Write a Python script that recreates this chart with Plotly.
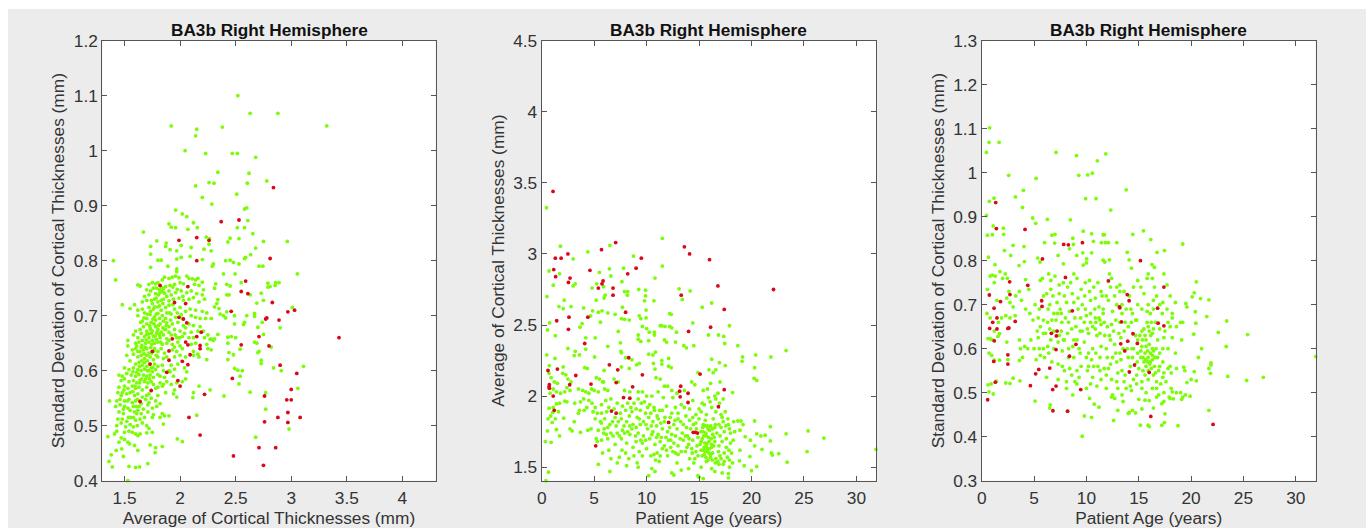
import plotly.graph_objects as go

TITLE = "BA3b Right Hemisphere"
XLABELS = ["Average of Cortical Thicknesses (mm)", "Patient Age (years)", "Patient Age (years)"]
YLABELS = ["Standard Deviation of Cortical Thicknesses (mm)", "Average of Cortical Thicknesses (mm)",
           "Standard Deviation of Cortical Thicknesses (mm)"]

# Panel 1: average thickness vs standard deviation
p1_red = [(2.84,.933),(2.37,.871),(2.53,.874),(1.99,.837),(2.15,.842),(2.26,.837),(2.15,.80),(2.81,.804),(1.82,.755),(2.07,.753),
(2.59,.763),(2.55,.744),(2.61,.74),(2.83,.724),(1.95,.724),(2.05,.722),(2.46,.708),(3.03,.71),(2.97,.707),(1.99,.697),(2.03,.694),
(2.06,.687),(2.78,.696),(2.77,.694),(2.89,.692),(3.43,.66),(2.71,.662),(2.15,.662),(2.19,.67),(1.93,.658),(2.05,.652),(2.07,.647),
(2.18,.646),(2.18,.64),(2.55,.647),(2.80,.645),(1.75,.635),(1.90,.636),(2.09,.629),(1.90,.619),(2.02,.617),(1.73,.612),(2.07,.611),
(2.90,.61),(1.88,.597),(3.05,.595),(2.47,.586),(1.98,.582),(2.0,.572),(1.74,.564),(3.0,.566),(2.22,.557),(2.76,.554),(2.96,.547),
(3.0,.547),(1.64,.544),(2.97,.524),(2.08,.515),(2.88,.515),(3.08,.515),(2.76,.507),(2.97,.506),(2.18,.483),(2.71,.46),(2.86,.46),
(2.48,.445),(2.75,.428)]
p1_green = [(1.40,.80),(1.42,.765),(1.365,.545),(1.35,.48),(1.38,.447),(1.36,.435),(1.39,.425),(1.53,.40),(1.54,.426),(1.60,.424),
(1.635,.425),(1.71,.431),(1.84,.462),(1.78,.46),(1.775,.451),(1.73,.465),(1.49,.444),(1.425,.455),(1.475,.458),(1.545,.467),(1.59,.464),(1.62,.455),
(2.52,1.10),(2.63,1.068),(2.88,1.068),(3.32,1.045),(1.92,1.045),(2.38,1.043),(2.15,1.039),(2.14,1.027),(2.045,1.0),(2.23,.995),(2.47,.995),(2.515,.995),
(2.68,.988),(2.34,.961),(2.62,.959),(2.78,.945),(2.26,.942),(2.305,.941),(2.605,.941),(2.14,.936),(2.51,.921),(2.2,.915),(2.285,.903),(2.58,.894),(2.6,.896),
(1.96,.892),(2.02,.885),(2.06,.88),(2.61,.873),(2.12,.869),(1.9,.867),(1.92,.861),(1.96,.86),(2.07,.857),(2.155,.86),(2.515,.86),(2.58,.86),(1.67,.852),
(2.655,.849),(2.235,.843),(2.265,.84),(2.45,.841),(2.53,.84),(2.43,.834),(2.75,.835),(2.965,.835),(1.79,.836),(1.875,.832),(2.01,.828),(1.735,.826),(1.87,.826),
(2.1,.824),(2.26,.83),(2.215,.821),(2.28,.818),(1.91,.82),(1.97,.818),(2.68,.823),(2.635,.811),(2.59,.806),(2.58,.804),(1.735,.812),(2.09,.808),(2.01,.806),
(1.97,.803),(1.8,.801),(1.83,.801),(2.2,.802),(2.41,.80),(2.45,.801),(2.48,.797),(2.3,.794),(2.29,.79),(2.53,.794),(2.71,.79),(2.745,.79),(1.89,.79),(1.97,.785),
(1.97,.78),(1.735,.788),(2.495,.776),(2.39,.776),(3.055,.776),(2.89,.76),(2.86,.76),(2.855,.755),(2.79,.752),(2.81,.753),(2.79,.759),(2.55,.76),(2.42,.757),(2.45,.754),
(2.32,.758),(2.31,.75),(2.73,.741),(2.63,.738),(2.42,.738),(2.44,.738),(2.75,.728),(2.34,.729),(2.69,.723),(2.33,.722),(2.31,.716),(3.01,.715),(2.35,.713),(2.42,.707),
(2.49,.70),(2.6,.70),(2.67,.704),(2.67,.699),(2.36,.703),(2.39,.70),(2.28,.695),(2.41,.696),(2.74,.688),(2.49,.685),(2.58,.688),(2.57,.684),(2.7,.679),(2.9,.678),
(2.75,.666),(2.67,.652),(2.69,.65),(2.43,.661),(2.46,.662),(2.5,.66),(2.34,.666),(2.31,.658),(2.27,.657),(2.82,.643),(2.43,.65),(2.54,.639),(2.7,.633),(2.71,.635),
(2.44,.633),(2.48,.629),(2.43,.62),(2.73,.619),(2.73,.613),(3.11,.608),(2.84,.605),(2.91,.60),(2.49,.604),(2.52,.601),(2.56,.60),(2.54,.59),(2.53,.576),(3.06,.568),
(2.63,.561),(2.77,.56),(2.27,.565),(2.395,.554),(2.17,.572),(2.12,.56),(2.115,.551),(2.77,.53),(2.15,.519),(2.98,.494),(2.68,.479),(1.975,.476),(2.02,.471),
(1.62,.756),(1.64,.754),(1.72,.757),(1.75,.76),(1.78,.758),(1.8,.76),(1.84,.765),(1.86,.77),(1.9,.768),(1.93,.77),(1.96,.772),(1.99,.769),(2.06,.772),(2.08,.768),(2.11,.767),
(2.14,.765),(2.16,.768),(2.2,.761),(1.7,.747),(1.76,.75),(1.79,.75),(1.83,.752),(1.85,.749),(1.87,.753),(1.91,.755),(1.95,.757),(2.0,.76),(2.03,.758),(2.13,.757),(2.17,.755),
(2.21,.747),(1.68,.735),(1.72,.738),(1.78,.74),(1.82,.742),(1.84,.744),(1.86,.741),(1.88,.735),(1.92,.738),(1.96,.742),(2.01,.745),(2.06,.742),(2.1,.745),(2.15,.74),(2.2,.738),
(1.66,.725),(1.7,.728),(1.75,.722),(1.77,.73),(1.8,.725),(1.83,.728),(1.85,.73),(1.9,.727),(1.94,.73),(1.99,.732),(2.03,.728),(2.08,.73),(2.12,.733),(2.17,.725),(2.22,.73),
(1.59,.72),(1.48,.72),(1.55,.713),(1.62,.71),(1.66,.712),(1.72,.715),(1.76,.712),(1.8,.716),(1.83,.71),(1.87,.715),(1.9,.719),(1.95,.712),(2.0,.715),(2.05,.708),(2.09,.712),
(2.14,.71),(2.2,.708),(2.24,.705),(1.62,.70),(1.68,.705),(1.7,.695),(1.73,.702),(1.77,.698),(1.8,.704),(1.84,.70),(1.87,.695),(1.92,.703),(1.96,.697),(2.01,.702),(2.1,.70),
(2.14,.697),(2.18,.695),(2.23,.695),(1.66,.69),(1.7,.685),(1.74,.688),(1.78,.692),(1.82,.685),(1.85,.69),(1.88,.687),(1.9,.68),(1.93,.685),(1.98,.688),(2.03,.682),(2.08,.685),
(2.12,.682),(2.18,.68),(2.21,.672),(1.6,.672),(1.64,.675),(1.67,.68),(1.7,.672),(1.73,.678),(1.75,.672),(1.78,.68),(1.8,.675),(1.83,.67),(1.87,.675),(1.9,.67),(1.95,.675),
(2.0,.672),(2.05,.678),(2.1,.67),(2.16,.672),(2.25,.665),(1.58,.665),(1.62,.66),(1.65,.668),(1.68,.662),(1.7,.666),(1.72,.66),(1.74,.668),(1.76,.663),(1.79,.668),(1.82,.66),
(1.85,.665),(1.88,.658),(1.92,.665),(1.97,.66),(2.02,.662),(2.08,.66),(2.12,.66),(2.22,.66),(2.28,.658),(1.53,.655),(1.6,.65),(1.63,.652),(1.66,.655),(1.69,.65),(1.72,.652),
(1.75,.655),(1.77,.65),(1.8,.652),(1.84,.648),(1.88,.65),(1.93,.648),(1.98,.652),(2.0,.645),(2.1,.648),(2.14,.65),(2.24,.648),(2.3,.655),(1.57,.638),(1.6,.64),(1.62,.635),
(1.65,.642),(1.67,.638),(1.7,.64),(1.72,.632),(1.77,.64),(1.8,.635),(1.83,.64),(1.86,.632),(1.93,.638),(1.97,.635),(2.02,.64),(2.12,.635),(2.16,.63),(2.25,.64),(2.28,.638),
(1.53,.645),(1.52,.628),(1.58,.63),(1.62,.625),(1.65,.628),(1.68,.622),(1.7,.628),(1.73,.625),(1.76,.62),(1.8,.625),(1.85,.622),(1.95,.625),(2.0,.628),(2.05,.625),(2.12,.628),
(2.17,.625),(2.24,.62),(1.55,.618),(1.6,.612),(1.63,.615),(1.66,.61),(1.68,.615),(1.7,.608),(1.74,.605),(1.77,.612),(1.8,.608),(1.84,.61),(1.92,.61),(1.98,.612),(2.04,.605),
(1.5,.605),(1.54,.602),(1.58,.605),(1.62,.602),(1.65,.6),(1.68,.603),(1.72,.6),(1.75,.598),(1.78,.602),(1.85,.6),(1.91,.598),(1.95,.603),(2.06,.598),(1.45,.592),(1.48,.59),
(1.52,.595),(1.56,.592),(1.6,.59),(1.63,.593),(1.67,.592),(1.7,.59),(1.73,.592),(1.76,.588),(1.8,.593),(1.86,.588),(1.94,.59),(2.05,.585),(1.47,.582),(1.5,.585),(1.54,.58),
(1.58,.582),(1.61,.578),(1.64,.583),(1.68,.58),(1.71,.578),(1.74,.58),(1.82,.578),(1.88,.58),(1.92,.575),(1.97,.578),(2.02,.58),(1.45,.57),(1.5,.572),(1.53,.568),(1.57,.572),
(1.6,.568),(1.63,.57),(1.66,.565),(1.7,.57),(1.78,.568),(1.84,.572),(1.95,.565),(1.44,.56),(1.47,.555),(1.52,.558),(1.55,.56),(1.59,.555),(1.62,.558),(1.66,.552),(1.7,.555),
(1.72,.558),(1.8,.555),(1.87,.56),(1.94,.558),(1.97,.552),(1.43,.545),(1.46,.548),(1.5,.545),(1.54,.548),(1.57,.542),(1.6,.545),(1.69,.548),(1.72,.542),(1.42,.535),(1.46,.538),
(1.5,.535),(1.53,.532),(1.58,.535),(1.63,.535),(1.67,.53),(1.71,.538),(1.75,.532),(1.79,.535),(1.45,.525),(1.49,.522),(1.55,.528),(1.59,.525),(1.62,.528),(1.65,.522),(1.71,.525),
(1.76,.52),(1.84,.522),(1.86,.518),(1.9,.518),(1.44,.512),(1.48,.512),(1.52,.508),(1.58,.515),(1.6,.51),(1.68,.515),(1.75,.515),(1.82,.515),(1.85,.503),(1.43,.5),(1.47,.505),
(1.55,.502),(1.58,.498),(1.66,.505),(1.7,.5),(1.72,.495),(1.43,.49),(1.41,.485),(1.5,.488),(1.54,.49),(1.57,.488),(1.6,.485),(1.64,.485),(1.7,.487),(1.75,.488),(1.47,.478),
(1.5,.475),(1.53,.47),(1.62,.482),(1.45,.47),
(1.735,.745),(1.815,.747),(1.805,.738),(1.785,.732),(1.742,.728),(1.815,.718),(1.845,.722),(1.77,.716),(1.735,.708),(1.785,.703),(1.815,.695),(1.755,.694),(1.705,.703),(1.675,.696),
(1.645,.688),(1.725,.682),(1.765,.685),(1.805,.682),(1.845,.678),(1.875,.682),(1.915,.692),(1.715,.667),(1.735,.675),(1.775,.663),(1.795,.671),(1.815,.665),(1.695,.656),(1.745,.648),
(1.785,.657),(1.825,.652),(1.655,.646),(1.685,.643),(1.735,.642),(1.765,.636),(1.61,.645),(1.64,.635),(1.675,.631),(1.705,.618),(1.745,.632),(1.785,.628),(1.655,.618),(1.635,.608),
(1.705,.6),(1.725,.612),(1.755,.606),(1.61,.597),(1.655,.585),(1.69,.585),(1.725,.585),(1.575,.598),(1.595,.572),(1.635,.578),(1.575,.562),(1.615,.548),(1.65,.54),(1.605,.535),
(1.61,.522),(1.64,.512),(1.615,.5),(1.535,.515),(1.51,.498),(1.49,.53),(1.555,.515),(1.525,.545),(1.48,.56),(1.495,.565),(1.9,.745),(1.935,.752),(1.975,.748),(2.025,.735),(1.905,.705),
(1.935,.72),(1.975,.705),(2.02,.695),(1.955,.665),(1.995,.66),(2.04,.668),(1.88,.705),(1.86,.675),(1.9,.655),(1.95,.643),(1.88,.625),(1.9,.6),(1.82,.59),(1.85,.575),(1.76,.575),(1.8,.57),
(1.74,.55),(1.78,.545),(1.82,.54)]

# Panel 2: patient age vs average thickness
p2_red = [(1.08,3.44),(7.05,3.08),(13.6,3.05),(5.7,3.03),(2.5,3.0),(14.1,3.0),(1.3,2.97),(1.85,2.97),(9.5,2.97),(16,2.96),(9,2.9),(1.15,2.89),(4.6,2.885),(8.2,2.86),
(1.33,2.84),(2.7,2.83),(2.55,2.80),(5.85,2.81),(5.75,2.79),(16.8,2.775),(5.4,2.76),(6.8,2.76),(22.1,2.75),(6.8,2.71),(13.3,2.71),(17.4,2.61),(8,2.59),(2.6,2.555),(4.4,2.555),
(1.43,2.53),(16.1,2.485),(2.55,2.47),(14,2.455),(4.1,2.37),(8.3,2.27),(6.45,2.22),(.6,2.18),(1.5,2.19),(7.25,2.185),(3.25,2.145),(9.6,2.15),(15.1,2.155),(7.1,2.095),(4.7,2.085),
(.73,2.08),(2.67,2.08),(.7,2.065),(.73,2.055),(13.25,2.07),(8.67,2.065),(17.4,2.045),(13.15,2.035),(13.95,2.02),(1.1,2.0),(13.2,1.995),(7.8,1.99),(8.4,1.985),(13.95,1.955),
(16.85,1.925),(6.65,1.895),(1.2,1.9),(7.1,1.88),(12.1,1.815),(14.45,1.745),(14.65,1.745),(14.85,1.74),(5.15,1.65)]
p2_green = [(.45,3.325),(11.5,3.11),(1.78,3.055),(6.5,3.06),(4.4,3.015),(3.0,2.965),(8.75,2.985),(.7,2.88),(6.45,2.895),(7.8,2.9),(11.5,2.915),(5.5,2.87),(6.6,2.845),(1.7,2.86),
(10.8,2.83),(3.2,2.79),(3,2.775),(1.1,2.78),(5.25,2.79),(4.8,2.76),(5.9,2.77),(7.65,2.805),(9.25,2.75),(9.9,2.745),(13.1,2.755),(14.15,2.74),(7.9,2.735),(8.2,2.735),(8.17,2.71),
(.5,2.7),(6.05,2.71),(5.95,2.69),(9.9,2.705),(5.2,2.675),(2.15,2.675),(9.8,2.67),(10.7,2.67),(13.4,2.68),(16.2,2.655),(2.8,2.63),(1.65,2.63),(7.7,2.625),(15.3,2.625),(2.05,2.615),
(4,2.62),(4.85,2.6),(5.75,2.6),(9.95,2.605),(5.4,2.59),(6.3,2.585),(7,2.575),(12.2,2.58),(12.35,2.575),(9.3,2.565),(4.67,2.565),(9.45,2.545),(9.95,2.55),(7.6,2.545),(7.9,2.54),
(8.35,2.535),(5.6,2.52),(.75,2.515),(3.85,2.51),(14.4,2.515),(17.9,2.495),(9.6,2.49),(11.3,2.495),(11.45,2.495),(11.75,2.49),(12.2,2.49),(12.4,2.48),(10,2.475),(3.65,2.485),
(.55,2.465),(10.25,2.45),(12.85,2.45),(10.75,2.45),(10.75,2.43),(7.3,2.455),(16.85,2.43),(15.9,2.43),(17.35,2.42),(1.3,2.425),(9.2,2.43),(9.2,2.4),(4.2,2.41),(5.1,2.41),(9.45,2.385),
(10.2,2.39),(11.7,2.395),(11.9,2.38),(12.75,2.38),(7.5,2.375),(17.45,2.37),(13.55,2.355),(13.8,2.34),(14.5,2.355),(6.3,2.35),(18.7,2.355),(2.5,2.335),(4.2,2.33),(23.3,2.32),(7.55,2.315),
(7.6,2.305),(3.2,2.315),(10.2,2.295),(10.85,2.31),(10.6,2.29),(.48,2.29),(3.6,2.29),(20.4,2.29),(19.15,2.275),(21.85,2.275),(5.05,2.275),(3.1,2.285),(8.0,2.27),(12.1,2.265),(8.6,2.255),
(1.27,2.265),(19.1,2.245),(16.2,2.26),(10.65,2.23),(11.45,2.25),(9.3,2.23),(16.95,2.235),(20.3,2.2),(17.5,2.215),(.73,2.215),(2.05,2.205),(12.1,2.21),(12.35,2.2),(4.1,2.2),(4.35,2.195),
(7.6,2.205),(9.05,2.22),(8.35,2.195),(10.8,2.19),(11.45,2.225),(16.6,2.185),(15.95,2.185),(16.35,2.165),(14.9,2.165),(5.95,2.18),(20.25,2.125),(20.5,2.11),(31.87,1.626),(26.9,1.705),
(25.4,1.755),(25.3,1.61),(23.3,1.735),(23.4,1.535),(22.6,1.595),(21.8,1.785),(21.9,1.6),(22,1.585),(21.8,1.685),(21.3,1.725),(20.9,1.72),(20.5,1.735),(21,1.625),(20.3,1.825),(19.9,1.69),
(20.3,1.65),(20.5,1.505),(20,1.475),(19.85,1.575),(19.4,1.715),(19.2,1.8),(19,1.825),(18.2,2.025),(18.7,1.825),(18.3,1.82),(18.9,1.76),(18.4,1.75),(18.1,1.6),(18.85,1.545),(18.9,1.62),
(19.3,1.51),(18.2,1.53),(17.9,1.55),(17.8,1.425),(17.8,1.455),(17.2,1.46),(15.4,1.42),(15,1.43),(14.9,1.44),(10.2,1.44),(12.6,1.445),(.4,1.405),(.65,1.465),(.35,1.68),(.9,1.675),(1.7,1.72),
(.55,1.755),(1.4,1.765),(2.7,1.77),(2.9,1.755),(3.1,1.82),(3.7,1.745),(4.4,1.76),(5.2,1.7),(5.3,1.68),(1.0,1.815),(1.3,1.84),(2.1,1.845),(.6,1.84),(.85,1.86),
(.7,1.915),(1.1,1.92),(1.4,1.945),(1.7,1.95),(2.2,1.965),(2.4,1.96),(1.05,1.885),(1.6,1.89),(.8,2.02),(1.1,2.05),(1.4,2.03),(1.8,2.02),(2.2,2.03),(2.4,2.06),
(.7,2.16),(.9,2.13),(1.2,2.1),(1.5,2.09),(2.0,2.16),(2.3,2.15),(2.5,2.12),(2.8,2.1),(2.7,2.04),(3.5,2.05),(3.9,2.04),(4.2,2.03),(4.5,2.02),(4.75,2.05),(5.0,2.04),(5.4,2.03),(5.8,2.1),(6,2.05),
(6.3,2.04),(5.2,2.13),(5.5,2.12),(5.9,2.1),(6.9,2.12),(7.3,2.1),(7.9,2.04),(8.4,2.03),(9.2,2.03),(9.6,2.03),(10,2.0),(10.5,2.0),(10.9,2.13),(11.3,2.12),(11.7,2.07),(12,2.07),(12.4,2.04),(12.9,2.02),
(13.6,2.04),(14.3,2.1),(14.6,2.08),(15.4,2.04),(15.8,2.05),(16.1,2.09),(16.8,2.02),(17,2.1),(17.3,1.98),(16.6,1.98),(15.9,1.99),(15.3,1.95),(14.4,1.97),(12.5,1.99),(11.6,1.99),(11.1,2.03),
(3.7,1.96),(4,1.98),(4.5,1.97),(4.8,1.95),(5.1,1.92),(5.7,1.94),(6.1,1.97),(6.6,1.98),(7.2,1.95),(7.7,1.93),(8.2,1.95),(8.8,1.95),(9.2,1.98),(9.8,1.96),(10.3,1.94),(10.7,1.92),
(3.6,1.9),(3.5,1.88),(4.3,1.92),(4.9,1.89),(5.3,1.88),(5.7,1.88),(6.2,1.89),(6.9,1.91),(7.5,1.88),(8,1.9),(8.6,1.89),(9,1.91),(9.4,1.9),(9.9,1.88),(10.4,1.88),(11,1.86),(11.5,1.9),(11.9,1.93),(12.4,1.88),
(13,1.88),(13.6,1.92),(14.1,1.91),(14.7,1.87),(15.2,1.89),(15.7,1.87),(16.2,1.92),(16.6,1.89),(17.2,1.85),(17.5,1.89),(5.1,1.84),(5.7,1.81),(6,1.84),(6.5,1.8),(7,1.85),(7.6,1.84),(8.1,1.82),(8.7,1.8),
(9.1,1.85),(9.7,1.82),(10.2,1.85),(10.6,1.82),(11.1,1.84),(11.7,1.82),(12.6,1.8),(13,1.84),(13.5,1.8),(14.1,1.83),(14.7,1.81),(15,1.84),(15.4,1.8),(15.8,1.79),(16.1,1.79),(16.5,1.78),(16.9,1.8),(17.3,1.82),
(17.8,1.8),(4.7,1.77),(5.4,1.76),(5.9,1.74),(6.3,1.78),(6.8,1.72),(7.2,1.74),(7.7,1.76),(8.2,1.75),(8.6,1.77),(9.2,1.74),(9.7,1.72),(10.1,1.77),(10.6,1.75),(11.1,1.73),(11.5,1.77),(12,1.75),(12.4,1.73),
(12.9,1.77),(13.4,1.74),(13.9,1.72),(14.2,1.77),(14.9,1.71),(15.4,1.75),(15.7,1.72),(16,1.76),(16.3,1.73),(16.7,1.74),(17,1.72),(17.4,1.75),(17.6,1.7),(18,1.74),(5.7,1.69),(6.3,1.7),(7,1.66),(7.6,1.7),
(8.1,1.67),(8.7,1.64),(9,1.68),(9.6,1.67),(10.3,1.7),(10.8,1.66),(11.3,1.68),(11.7,1.65),(12.1,1.69),(12.6,1.67),(13,1.65),(13.5,1.69),(14,1.66),(14.4,1.69),(14.8,1.65),(15.2,1.68),(15.5,1.64),(15.8,1.67),
(16,1.63),(16.2,1.66),(16.5,1.68),(16.9,1.65),(17.2,1.68),(17.6,1.64),(18,1.67),(5.8,1.6),(6.4,1.62),(7.4,1.57),(8,1.6),(8.8,1.58),(9.3,1.61),(10,1.63),(10.7,1.59),(11,1.6),(11.5,1.63),(12,1.58),(12.5,1.61),
(13,1.59),(13.7,1.61),(14.1,1.56),(14.7,1.61),(15.2,1.62),(15.5,1.59),(15.8,1.61),(16.1,1.57),(16.3,1.6),(16.6,1.56),(17,1.58),(17.4,1.6),(17.7,1.57),(6.6,1.56),(5.4,1.52),(6.5,1.47),(7.2,1.53),(8.1,1.51),
(9.1,1.53),(9.2,1.5),(10.5,1.49),(10.8,1.47),(11.2,1.54),(12.4,1.46),(12.9,1.53),(13.3,1.48),(14,1.49),(14.5,1.53),(15.2,1.5),(15.7,1.54),(16.2,1.49),(16.5,1.47),(16.9,1.52),(17.4,1.54),(17.9,1.5),
(15.2,1.75),(15.35,1.78),(15.6,1.79),(15.85,1.77),(16.05,1.785),(16.3,1.77),(16.55,1.8),(15.45,1.72),(15.65,1.74),(15.9,1.71),(16.15,1.7),(16.45,1.71),(15.1,1.66),(15.3,1.7),(15.55,1.67),(15.7,1.65),
(15.95,1.68),(16.2,1.64),(16.4,1.65),(15.4,1.62),(15.6,1.61),(15.75,1.63),(15.95,1.6),(16.1,1.59),(15.3,1.58),(15.65,1.57),(15.85,1.55),(16.25,1.55),(16.55,1.53),(16.8,1.54),(17.1,1.56),(17.3,1.52),
(14.9,1.58),(14.6,1.56),(14.3,1.63),(14.05,1.7),(13.7,1.72),(13.2,1.7),(12.75,1.72),(12.3,1.69),(11.85,1.71),(11.4,1.71),(10.95,1.71),(10.5,1.73),(9.9,1.69),(9.45,1.69),(8.95,1.72),(8.4,1.73),(7.9,1.74),
(7.4,1.72),(6.6,1.74),(6.15,1.73),(7.1,1.79),(7.85,1.79),(8.4,1.79),(9,1.78),(9.4,1.8),(9.95,1.8),(10.45,1.79),(10.95,1.79),(11.35,1.81),(12.2,1.78),(12.7,1.83),(13.25,1.82),(13.8,1.78),(14.45,1.8),
(14.75,1.77),(17.1,1.78),(17.55,1.79),(17.9,1.77),(18.25,1.69),(17.85,1.62),(16.85,1.61),(7.65,1.62),(8.3,1.56),(9.6,1.58),(10.4,1.58),(10.85,1.55),(11.3,1.58),(11.9,1.62),(12.3,1.64),(12.75,1.6),(13.3,1.61),
(13.85,1.64),(14.35,1.6),(5.95,1.77),(5.6,1.82),(6.75,1.82),(7.3,1.82),(8.35,1.86),(9.3,1.84),(10.1,1.92),(10.75,1.9),(11.25,1.9),(11.75,1.85),(12.25,1.85),(12.75,1.92),(13.3,1.94),(13.75,1.86),(14.4,1.85),
(15,1.91),(15.5,1.94),(16.05,1.96),(16.5,2.0),(16.95,1.95),(15.6,1.83),(16.35,1.84),(17.1,1.87),(17.75,1.84),(9.5,1.95),(6.4,1.92),(8.5,1.92),(4.05,1.9),(3.15,1.95)]

# Panel 3: patient age vs standard deviation
p3_red = [(1.34,.932),(1.4,.873),(4.14,.871),(5.8,.804),(7.83,.837),(8.28,.836),(9.62,.841),(15.16,.80),(8.0,.762),(12.1,.754),(2.67,.752),(4.4,.744),(17.4,.74),(2.7,.723),(.73,.722),(13.9,.723),
(14.08,.709),(5.73,.709),(1.8,.707),(5.76,.696),(13.15,.695),(13.2,.693),(1.18,.692),(16.8,.692),(8.66,.686),(1.46,.67),(3.2,.662),(13.35,.661),(1.05,.66),(16.85,.658),(17.4,.652),(.76,.646),(1.46,.645),
(2.5,.646),(2.6,.647),(7.2,.64),(6.65,.635),(14.45,.634),(7.13,.629),(1.2,.618),(13.95,.617),(13.28,.611),(14.87,.612),(9,.61),(7.1,.598),(13.66,.595),(2.5,.586),(8.38,.583),(1.15,.571),(2.5,.565),(14.6,.563),
(6.5,.556),(5.45,.553),(14.1,.547),(5.15,.543),(16,.546),(1.3,.524),(4.65,.516),(7.1,.515),(6.78,.507),(9.46,.507),(.57,.484),(6.8,.459),(8.2,.458),(16.15,.446),(22.1,.428)]
p3_green = [(.76,1.102),(.7,1.069),(1.66,1.069),(.45,1.046),(7.1,1.046),(11.85,1.043),(9.05,1.039),(11.05,1.027),(2.58,.994),(9.27,.994),(10.13,.995),(10.57,.999),(5.2,.987),(3.22,.945),(3.98,.96),(13.8,.961),
(1.18,.942),(9.93,.941),(10.92,.941),(.73,.935),(3.9,.921),(12.33,.915),(.45,.903),(4.87,.897),(5.16,.885),(6.27,.894),(8.47,.893),(1.1,.879),(2.07,.874),(15.45,.868),(9.7,.867),(2.1,.86),(.54,.858),(1.02,.859),
(6.7,.858),(7,.86),(10.5,.861),(11.6,.859),(11.72,.859),(14.43,.86),(8.7,.851),(16.15,.848),(6,.841),(6.97,.84),(10.67,.844),(11.43,.841),(11.8,.841),(12.1,.841),(12.9,.841),(19.2,.838),(3,.835),(4.04,.832),(8.76,.837),
(8.38,.827),(17.45,.823),(13.9,.819),(16.75,.819),(10.5,.818),(9.65,.818),(2.17,.823),(2.77,.812),(7.3,.812),(.64,.808),(5.35,.806),(9.08,.812),(10.03,.804),(14.08,.802),(12.2,.802),(11.6,.801),(11.75,.797),(4.08,.798),
(5.57,.797),(3.57,.789),(1.27,.791),(7.8,.793),(16.27,.791),(16.5,.785),(14.3,.783),(9.7,.79),(10,.795),(31.9,.582),(26.9,.535),(25.4,.632),(25.3,.528),(23.4,.663),(23.35,.605),(23.5,.537),(22.6,.637),(21.9,.568),
(21.9,.563),(21.7,.555),(21.85,.544),(21.7,.46),(21.7,.711),(21.5,.673),(20.9,.714),(21,.6),(20.5,.752),(20.3,.727),(20.1,.718),(20.4,.684),(20.45,.658),(20.25,.633),(20.7,.58),(20.3,.548),(20.5,.527),(20,.53),(19.9,.492),
(19.5,.703),(19.6,.695),(19.2,.66),(19.1,.62),(19.3,.558),(19.4,.55),(19.6,.523),(19,.5),(19.45,.495),(19.2,.49),(19.1,.485),(18.75,.425),(18.6,.555),(18.6,.5),(18.2,.502),(18.3,.486),(18,.487),(17.9,.49),(17.45,.432),
(17.2,.426),(15.15,.426),(15.9,.426),(16,.423),(9.6,.401),(12.6,.437),(10.5,.444),(9.8,.447),(8.2,.458),(6.5,.465),(6.55,.472),(5.1,.481),(10.3,.487),(10.75,.474),(11.2,.467),(15.3,.463),(14.4,.46),(14.7,.454),(14,.453),
(1.1,.497),(.7,.502),(.6,.518),(.9,.52),(2.3,.522),(2.7,.521),(3,.533),(3.65,.527),(1.4,.526),
(.7,.59),(.95,.585),(1.2,.574),(1.7,.574),(2.5,.575),(3.6,.573),(3.9,.58),(.6,.623),(.85,.622),(1.05,.62),(1.7,.634),(1.55,.628),(2.4,.615),(.5,.68),(.8,.67),(1.2,.64),(1.6,.66),(1.9,.67),(2.3,.675),(2.7,.67),(3.2,.675),
(.55,.735),(.8,.765),(1,.767),(1.2,.75),(1.3,.765),(1.45,.71),(1.75,.775),(2,.76),(2.25,.77),(2.45,.76),(2.6,.73),(2.4,.715),(2.7,.705),(3,.695),(3.25,.72),(3.6,.73),(3.8,.71),(4.2,.757),(4.5,.735),(4.2,.69),(4.6,.68),(4.9,.665),
(3.6,.62),(3.7,.6),(4.1,.605),(4.4,.6),(4.7,.62),(5,.6),(5.3,.64),(5.1,.7),(5.5,.69),(5.4,.67),(5.6,.755),(5.8,.76),(6.4,.77),(6.6,.755),(7,.765),(7.4,.745),(7.8,.75),(6.2,.725),(6.5,.7),(6.8,.72),(7.2,.705),(7.6,.68),(7.9,.72),
(8.2,.74),(8.5,.75),(8.8,.77),(9.1,.76),(9.5,.735),(9.9,.75),(10.3,.755),(10.7,.74),(11.1,.75),(11.5,.72),(11.9,.72),(12.3,.74),(12.2,.77),(12.4,.76),(13.2,.745),(13.2,.73),(13.6,.73),(14.1,.72),(14.5,.74),(14.9,.755),(15.2,.74),
(15.5,.725),(15.8,.76),(15.9,.77),(16.3,.76),(16.5,.74),(16.7,.72),(17.4,.77),(17.7,.745),(18,.72),(18.5,.705),(17.3,.705),(17,.7),(16.4,.69),(16.1,.68),(15.8,.685),(15.3,.69),(14.9,.7),(14.4,.68),(13.8,.69),(13.4,.68),(12.9,.7),
(12.5,.685),(12.1,.71),(11.6,.69),(11.2,.695),(10.8,.69),(10.4,.71),(10,.675),(9.6,.7),(9.2,.69),(8.8,.705),(8.4,.685),(8,.67),(7.5,.69),(7.1,.665),(6.7,.665),(6.3,.66),(5.9,.665),(5.6,.65),(6.1,.635),(6.5,.645),(6.9,.64),
(7.4,.63),(7.8,.62),(8.2,.635),(8.6,.645),(9,.65),(9.4,.64),(9.8,.66),(10.2,.635),(10.6,.65),(10.9,.66),(11.3,.665),(11.7,.66),(12,.65),(12.4,.655),(12.8,.665),(13.1,.635),(13.6,.64),(14,.65),(14.3,.66),(14.8,.665),(15.1,.63),
(15.5,.645),(15.8,.66),(16,.64),(16.3,.635),(16.6,.66),(17,.645),(17.4,.625),(17.8,.66),(18.2,.67),(18.6,.65),(19,.66),(18.2,.625),(17.8,.6),(17.3,.6),(16.8,.62),(16.3,.6),(16,.61),(15.7,.62),(15.3,.605),(14.9,.62),(14.5,.6),
(13.9,.6),(13.3,.625),(12.7,.61),(12.3,.62),(11.9,.6),(11.4,.605),(11,.63),(10.6,.6),(10.2,.59),(9.8,.615),(9.3,.6),(8.8,.62),(8.3,.6),(7.9,.62),(7.3,.615),(6.9,.6),(6.3,.605),(5.9,.6),(5.5,.6),(5.2,.575),(6,.58),(6.7,.57),
(7.3,.565),(7.7,.56),(8.4,.555),(9.1,.55),(9.5,.56),(10,.58),(10.5,.575),(10.9,.59),(11.3,.58),(11.7,.555),(12.1,.555),(12.5,.58),(12.9,.57),(13.3,.575),(14,.58),(14.4,.58),(14.9,.59),(15.2,.58),(15.5,.57),(15.7,.56),(15.9,.58),
(16.1,.57),(16.3,.585),(16.5,.56),(16.8,.58),(17,.59),(17.3,.57),(17.8,.555),(18.1,.545),(18.5,.59),(15,.555),(15.4,.55),(14.8,.54),(13.4,.55),(13,.545),(12.4,.53),(11.9,.54),(11.3,.55),(10.6,.535),(10.1,.55),(9.3,.535),(8.6,.54),
(7.9,.55),(7.3,.53),(6.2,.535),(8.1,.525),(8.9,.525),(10,.51),(11,.515),(11.9,.51),(12.5,.495),(13,.51),(13.6,.525),(14.2,.515),(14.8,.52),(15.3,.525),(15.9,.53),(16.4,.54),(16.7,.525),(17.1,.52),(17.6,.525),(18.1,.51),(17.4,.5),
(16.9,.495),(16.3,.51),(15.7,.5),(15,.485),(14.3,.505),(13.4,.495),(12.7,.487),(12.4,.49),(13,.46),(13.5,.48),(14.1,.455),(15.6,.483),(16,.482),(16.4,.465),(16.7,.49),(17.2,.475),(17.5,.452),(17.4,.48),(8.7,.495),(8.1,.51),(9.1,.52),
(15.3,.64),(15.6,.63),(15.9,.65),(16.15,.63),(16.4,.645),(15.35,.62),(15.7,.605),(16.1,.59),(16.4,.595),(16.65,.6),(15.6,.59),(15.85,.595),(15.2,.595),(15.4,.58),(15.65,.575),(15.85,.57),(16.05,.565),(16.3,.575),(16.55,.58),(16.2,.555),
(15.9,.55),(16.6,.545),(17,.56),(17.4,.545),(14.85,.57),(14.35,.6),(14.7,.63),(13.7,.66),(13.2,.66),(12.6,.64),(12.2,.63),(11.75,.63),(11.3,.635),(10.85,.645),(10.4,.66),(10.1,.645),(9.6,.64),(9.1,.62),(8.7,.605),(7.6,.64),(6.6,.62),
(5.9,.635),(5.4,.625),(11.6,.68),(11.2,.67),(10.85,.67),(11.4,.655),(10.4,.68),(9.9,.69),(9.45,.67),(8.9,.67),(8.3,.66),(7.65,.66),(7.25,.68),(6.9,.68),(6.35,.69),(5.9,.72),(6.6,.735),(7.4,.725),(8.1,.705),(8.65,.725),(9.2,.715),
(9.85,.72),(10.3,.73),(10.85,.715),(11.4,.73),(12.7,.72),(12.9,.74),(13.4,.7),(14.25,.69),(14.7,.665),(15.9,.7),(16.4,.71),(17.25,.68),(17.7,.69),(18.2,.68),(18,.65),(17.5,.64),(16.2,.66),(12,.58),(12.3,.565),(11.1,.56),(10.7,.56),
(10.2,.56),(9.4,.59),(8.8,.58),(8.3,.58),(7.7,.595),(6.4,.59),(5.6,.585),(12.8,.59),(13.5,.6),(13.2,.59),(14.2,.56),(13.7,.54),(12.9,.525),(13.8,.51),(15.3,.51),(16.9,.55),(17.3,.535),(18,.56),(16.7,.51),(15.6,.54),(14.5,.53),(11.4,.53),(10.4,.52)]

RED = "#d9091c"
GREEN = "#7dfc0a"
MARKER_SIZE = 3.8
panels = [
    (p1_green, p1_red, [102.3, 435.7], [1.3, 4.3], [0.4, 1.2], [1.5, 2, 2.5, 3, 3.5, 4], [.4, .5, .6, .7, .8, .9, 1, 1.1, 1.2], ["0.4", "0.5", "0.6", "0.7", "0.8", "0.9", "1", "1.1", "1.2"]),
    (p2_green, p2_red, [541.7, 876.0], [0, 31.87], [1.405, 4.5], [0, 5, 10, 15, 20, 25, 30], [1.5, 2, 2.5, 3, 3.5, 4, 4.5], ["1.5", "2", "2.5", "3", "3.5", "4", "4.5"]),
    (p3_green, p3_red, [981.7, 1315.7], [0, 31.9], [0.3, 1.3], [0, 5, 10, 15, 20, 25, 30], [.3, .4, .5, .6, .7, .8, .9, 1, 1.1, 1.2, 1.3], ["0.3", "0.4", "0.5", "0.6", "0.7", "0.8", "0.9", "1", "1.1", "1.2", "1.3"]),
]

W, H = 1366, 528
TOP, BOTTOM = 40.7, 480.7
FONT = "Liberation Sans"
fig = go.Figure()
layout = dict(
    width=W, height=H, margin=dict(l=0, r=0, t=0, b=0, pad=0, autoexpand=False), showlegend=False,
    paper_bgcolor="#ececec", plot_bgcolor="white",
    font=dict(family=FONT, color="#262626", size=17.3),
    shapes=[
        dict(type="rect", xref="paper", yref="paper", x0=0, x1=8 / W, y0=0, y1=1, fillcolor="white", line_width=0, layer="below"),
        dict(type="rect", xref="paper", yref="paper", x0=0, x1=1, y0=1 - 9 / H, y1=1, fillcolor="white", line_width=0, layer="below"),
    ],
    annotations=[],
)
for i, (green, red, dom, xr, yr, xt, yt, ytl) in enumerate(panels):
    n = "" if i == 0 else str(i + 1)
    for pts, col in ((green, GREEN), (red, RED)):
        fig.add_trace(go.Scatter(x=[p[0] for p in pts], y=[p[1] for p in pts], mode="markers",
                                 xaxis="x" + n, yaxis="y" + n, cliponaxis=False,
                                 marker=dict(color=col, size=MARKER_SIZE, line_width=0)))
    common = dict(showgrid=False, zeroline=False, showline=True, linecolor="#555555", linewidth=1,
                  mirror="allticks", ticks="inside", ticklen=5, tickcolor="#555555", tickwidth=1, automargin=False,
                  tickfont=dict(family=FONT, size=17.3, color="#333333"))
    layout["xaxis" + n] = dict(common, domain=[dom[0] / W, dom[1] / W], range=xr, anchor="y" + n, tickmode="array", tickvals=xt,
                               ticktext=[str(v) for v in xt], ticklabelstandoff=2,
                               title=dict(text=XLABELS[i], standoff=6, font=dict(family=FONT, size=17.3, color="#333333")))
    layout["yaxis" + n] = dict(common, domain=[1 - BOTTOM / H, 1 - TOP / H], range=yr, anchor="x" + n, tickmode="array", tickvals=yt,
                               ticktext=ytl,
                               title=dict(text=YLABELS[i], standoff=4, font=dict(family=FONT, size=17.3, color="#333333")))
    layout["annotations"].append(dict(text="<b>" + TITLE + "</b>", xref="paper", yref="paper", x=(dom[0] + dom[1]) / 2 / W,
                                      y=1 - 29.5 / H, xanchor="center", yanchor="middle", showarrow=False,
                                      font=dict(family=FONT, size=17.2, color="#111111")))
fig.update_layout(**layout)
fig.write_html("out.html", config=dict(displayModeBar=False),
               post_script="document.body.style.margin='0';document.body.style.overflow='hidden';")
